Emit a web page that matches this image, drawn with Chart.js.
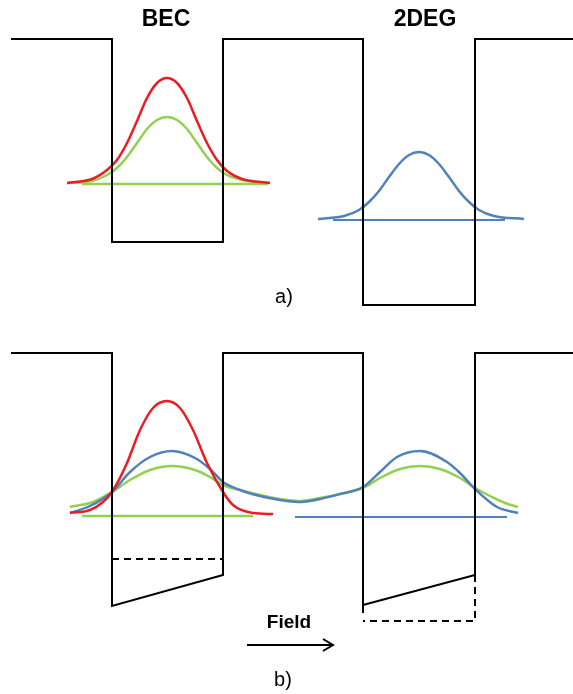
<!DOCTYPE html>
<html>
<head>
<meta charset="utf-8">
<script src="https://cdn.jsdelivr.net/npm/chart.js@4"></script>
<style>
  body { margin: 0; background: #fff; }
  canvas { display: block; }
</style>
</head>
<body>
<canvas id="diagram" width="573" height="694"></canvas>
<script>
// potential profiles (x, y) in picture units
const wellA = [[11,39],[112,39],[112,242],[223,242],[223,39],[363,39],[363,305],[475,305],[475,39],[573,39]];
const wellB1 = [[11,353],[112,353],[112,606],[223,575],[223,353],[363,353],[363,613]];
const wellB2 = [[363,605],[475,575],[475,353],[573,353]];
const dashB1 = [[112,559],[223,559]];
const dashB2 = [[475,575],[475,621],[363,621]];

// panel a) wavefunctions
const redA = [[67,183],[92,179],[107,170],[117,160],[127,143],[137,121],[147,98],[157,83],[167,78],[177,83],[187,98],[197,121],[207,143],[217,160],[227,171],[242,179],[270,183]];
const greenA = [[67,183],[92,181],[107,175],[117,168],[127,157],[137,143],[147,129],[157,120],[167,117],[177,120],[187,129],[197,143],[207,157],[217,168],[227,175],[242,180],[268,183]];
const greenLevelA = [[82,184],[268,184]];
const blueA = [[318,219],[344,216],[359,210],[369,202],[379,191],[389,177],[399,164],[409,155],[419,152],[429,155],[439,164],[449,177],[459,191],[469,202],[479,210],[494,216],[524,219]];
const blueLevelA = [[333,220],[505,220]];

// panel b) wavefunctions
const redB = [[70,513],[90,510],[103,502],[112,492],[127,463],[140,430],[153,408],[167,401],[180,408],[193,430],[207,463],[223,492],[233,505],[253,513],[273,514]];
const blueB = [[70,513],[90,506],[112,492],[130,472],[150,457],[172,451],[195,458],[210,469],[223,482],[240,490],[260,496],[280,500],[298,502],[320,499],[340,494],[363,487],[380,472],[397,457],[420,451],[447,462],[460,473],[475,489],[497,507],[518,513]];
const greenB = [[70,507],[93,502],[112,492],[130,480],[150,470],[172,466],[195,470],[210,477],[223,485],[240,490],[260,495],[280,499],[298,501],[320,498],[340,494],[363,488],[380,478],[400,469],[420,466],[440,469],[460,478],[475,488],[490,496],[505,503],[518,507]];
const greenLevelB = [[82,516],[253,516]];
const blueLevelB = [[295,517],[507,517]];

// field arrow
const arrowShaft = [[247,645],[332,645]];
const arrowHead = [[323,639],[333,645],[323,651]];

// labels
const labelTexts = ["BEC", "2DEG", "a)", "Field", "b)"];
const labelPos = [[166,20],[425,20],[284,297],[289,623],[283,680]];
const labelFonts = ["bold 23px 'Liberation Sans', Arial", "bold 23px 'Liberation Sans', Arial",
  "20px 'Liberation Sans', Arial", "bold 19px 'Liberation Sans', Arial", "20px 'Liberation Sans', Arial"];

const pts = arr => arr.map(p => ({ x: p[0], y: p[1] }));

function line(arr, color, width, dash, curved) {
  return {
    data: pts(arr),
    showLine: true,
    borderColor: color,
    borderWidth: width,
    borderDash: dash || [],
    pointRadius: 0,
    fill: false,
    cubicInterpolationMode: curved ? 'monotone' : 'default',
    tension: 0
  };
}

const black = '#000000';
const red = '#ea1d25';
const green = '#92d050';
const blue = '#4f81bd';

const labelPlugin = {
  id: 'labels',
  afterDraw(chart) {
    const ctx = chart.ctx;
    const sx = chart.scales.x, sy = chart.scales.y;
    ctx.save();
    ctx.fillStyle = '#000';
    ctx.textAlign = 'center';
    ctx.textBaseline = 'middle';
    labelTexts.forEach((t, i) => {
      ctx.font = labelFonts[i];
      ctx.fillText(t, sx.getPixelForValue(labelPos[i][0]), sy.getPixelForValue(labelPos[i][1]));
    });
    ctx.restore();
  }
};

new Chart(document.getElementById('diagram').getContext('2d'), {
  type: 'scatter',
  data: {
    datasets: [
      line(wellA, black, 2),
      line(wellB1, black, 2),
      line(wellB2, black, 2),
      line(dashB1, black, 2, [7, 5]),
      line(dashB2, black, 2, [7, 5]),
      line(arrowShaft, black, 2),
      line(arrowHead, black, 2),
      line(redA, red, 2.5, null, true),
      line(redB, red, 2.5, null, true),
      line(blueA, blue, 2.5, null, true),
      line(blueB, blue, 2.5, null, true),
      line(greenA, green, 2.5, null, true),
      line(greenB, green, 2.5, null, true),
      line(greenLevelA, green, 2.5),
      line(greenLevelB, green, 2.5),
      line(blueLevelA, blue, 2),
      line(blueLevelB, blue, 2)
    ]
  },
  options: {
    responsive: false,
    animation: false,
    layout: { padding: 0 },
    plugins: { legend: { display: false }, tooltip: { enabled: false } },
    scales: {
      x: { type: 'linear', min: 0, max: 573, display: false },
      y: { type: 'linear', min: 0, max: 694, reverse: true, display: false }
    }
  },
  plugins: [labelPlugin]
});
</script>
</body>
</html>
